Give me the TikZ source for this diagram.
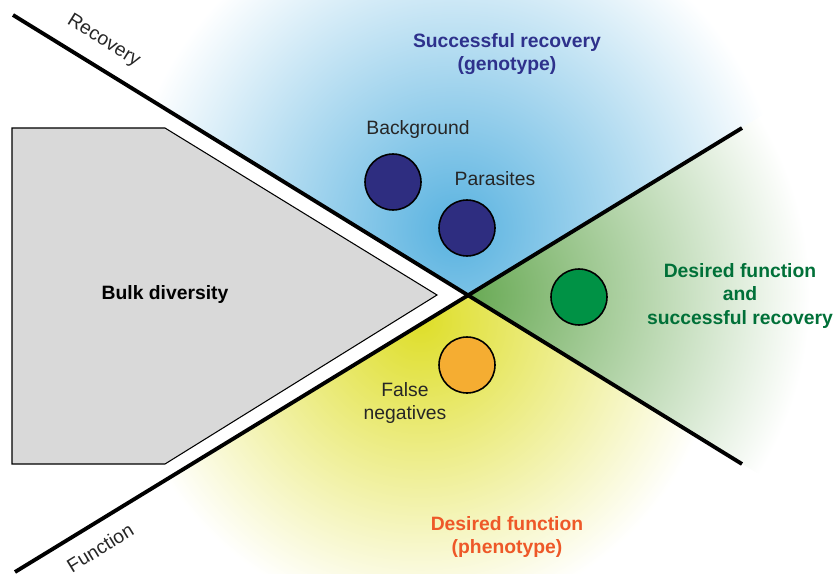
\documentclass[tikz,border=0pt]{standalone}
\usepackage{fontspec}
\setmainfont{Liberation Sans}
\definecolor{navy}{RGB}{46,45,128}
\definecolor{leafgreen}{RGB}{0,146,69}
\definecolor{amber}{RGB}{245,173,50}
\definecolor{bulkgray}{RGB}{217,217,217}
\definecolor{skyblue}{RGB}{88,178,224}
\definecolor{mossgreen}{RGB}{105,170,85}
\definecolor{lemon}{RGB}{222,222,40}
\definecolor{titleblue}{RGB}{46,49,140}
\definecolor{titlegreen}{RGB}{0,112,56}
\definecolor{titleorange}{RGB}{238,88,40}
\tikzset{
  axis/.style={line width=2.2pt},
  blob/.style={circle, draw, line width=0.9pt, minimum size=1.12cm, inner sep=0pt},
  lbl/.style={font=\fontsize{11}{13.6}\selectfont, text=black!85, align=center},
  title/.style={font=\fontsize{11}{13.6}\selectfont\bfseries, align=center}
}
\begin{document}
\begin{tikzpicture}[x=0.02cm,y=-0.02cm]
	\useasboundingbox (0,0) rectangle (838,574);
	\coordinate (O) at (468,295);
	\coordinate (rec1) at (13,15);
	\coordinate (rec2) at (742,464);
	\coordinate (fun1) at (15,572);
	\coordinate (fun2) at (742,128);

	\begin{scope}
	\clip (O) -- (0,7) -- (0,0) -- (838,0) -- (838,69) -- cycle;
	\shade[inner color=skyblue, outer color=white] (455,230) circle[radius=330];
	\end{scope}
	\begin{scope}
	\clip (O) -- (838,69) -- (838,523) -- cycle;
	\shade[inner color=mossgreen, outer color=white] (470,295) circle[radius=340];
	\end{scope}
	\begin{scope}
	\clip (O) -- (838,523) -- (838,574) -- (11,574) -- cycle;
	\shade[inner color=lemon, outer color=white] (420,320) circle[radius=300];
	\end{scope}

	\draw[fill=bulkgray, line width=0.6pt] (12,128) -- (165,128) -- (437,295) -- (165,464) -- (12,464) -- cycle;
	\node[title] (bulk) at (165,295) {Bulk diversity};

	\draw[axis] (rec1) -- (rec2) node[pos=0.106, sloped, above=5pt, lbl] (reclbl) {Recovery};
	\draw[axis] (fun1) -- (fun2) node[pos=0.1, sloped, below=5pt, lbl] (funlbl) {Function};

	\node[blob, fill=navy] (bg) at (393,182) {};
	\node[blob, fill=navy] (par) at (467,228) {};
	\node[blob, fill=leafgreen] (hit) at (579,297) {};
	\node[blob, fill=amber] (fn) at (467,365) {};

	\node[lbl] (bglbl) at (418,130) {Background};
	\node[lbl] (parlbl) at (495,179) {Parasites};
	\node[lbl] (fnlbl) at (405,403) {False\\negatives};

	\node[title, text=titleblue] (geno) at (507,54) {Successful recovery\\(genotype)};
	\node[title, text=titlegreen] (both) at (740,296) {Desired function\\and\\successful recovery};
	\node[title, text=titleorange] (pheno) at (507,537) {Desired function\\(phenotype)};
\end{tikzpicture}
\end{document}
